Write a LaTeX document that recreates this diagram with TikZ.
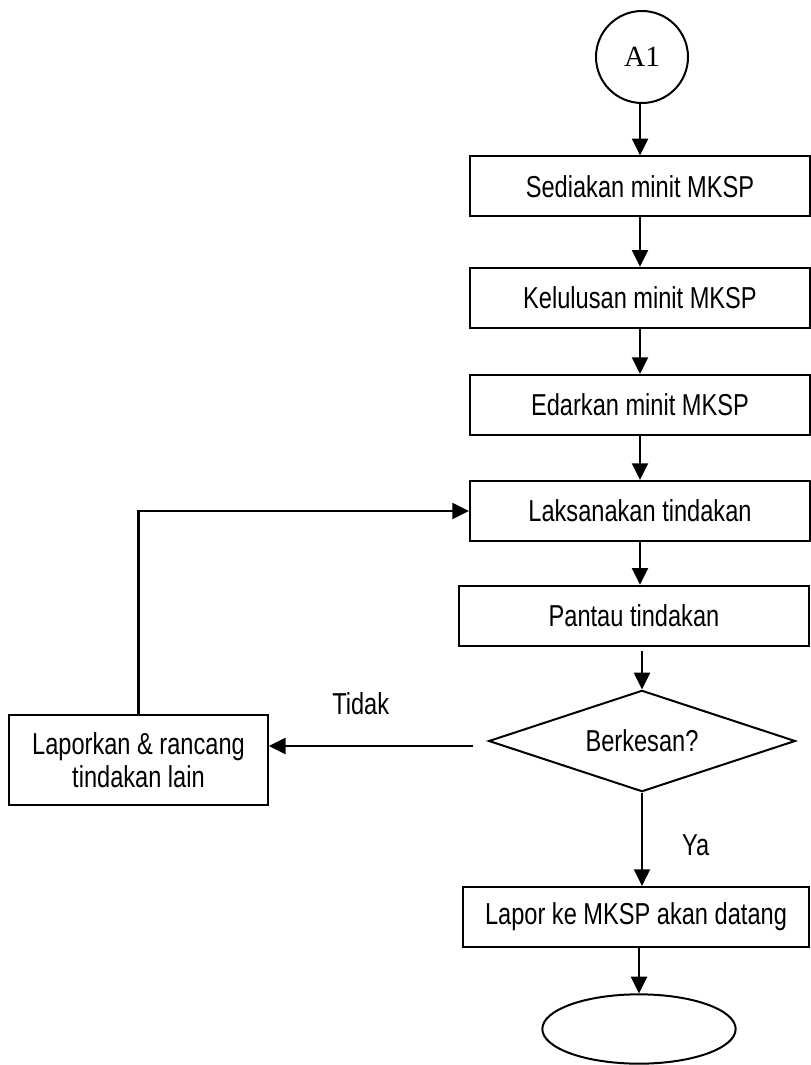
\documentclass[tikz,border=0pt]{standalone}
\usepackage{fontspec}
\setmainfont{Liberation Sans}[FakeStretch=0.78]
\newfontfamily\timesfont{Liberation Serif}
\usetikzlibrary{positioning,shapes.geometric,arrows.meta}

\begin{document}
\begin{tikzpicture}[x=0.75pt, y=-0.75pt,
  every node/.style={font=\fontsize{22.7}{25}\selectfont},
  proc/.style={draw, line width=1.5pt, minimum width=255pt, minimum height=45pt, inner sep=2pt, align=center},
  conn/.style={draw, circle, line width=1.5pt, minimum size=69pt, inner sep=0pt, font=\timesfont\fontsize{22}{24}\selectfont},
  decide/.style={draw, diamond, aspect=3, line width=1.5pt, minimum width=230pt, minimum height=76pt, inner sep=0pt},
  term/.style={draw, ellipse, line width=1.5pt, minimum width=145pt, minimum height=52pt},
  arr/.style={-{Triangle[length=12.5pt,width=12pt]}, line width=1.6pt}]
\useasboundingbox (0,0) rectangle (811,1065);
% nodes
\node[conn] (a1) at (642,57) {A1};
\node[proc, below=38.5pt of a1, xshift=-1.5pt] (sedia) {Sediakan minit MKSP};
\node[proc, below=37pt of sedia] (lulus) {Kelulusan minit MKSP};
\node[proc, below=34pt of lulus] (edar) {Edarkan minit MKSP};
\node[proc, below=33pt of edar] (laksana) {Laksanakan tindakan};
\node[proc, below=32pt of laksana, minimum width=262pt, xshift=-4.5pt] (pantau) {Pantau tindakan};
\node[decide, below=32pt of pantau, xshift=6pt] (kesan) {Berkesan?};
\node[proc, below=70pt of kesan, minimum width=260pt, xshift=-4.5pt] (lapor) {Lapor ke MKSP akan datang};
\node[term, below=34pt of lapor, xshift=2.25pt] (tamat) {};
\node[proc, minimum width=194pt, minimum height=67pt] (rancang) at (138.5,760) {Laporkan \& rancang\\tindakan lain};
\coordinate (tidakpt) at ([yshift=-3.75pt]kesan.west);

% connectors
\foreach \u/\v in {a1/sedia, sedia/lulus, lulus/edar, edar/laksana}
  \draw[arr] (\u.south -| sedia) -- (\v.north -| sedia);
\draw[arr] (laksana.south) -- (laksana.south |- pantau.north);
\draw[arr, shorten <=3pt] (pantau.south -| kesan.north) -- (kesan.north);
\draw[arr] (kesan.south) -- node[pos=0.56, right=26pt] (ya) {Ya} (kesan.south |- lapor.north);
\draw[arr] (lapor.south -| tamat.north) -- (tamat.north);
\draw[arr, shorten <=11pt] (tidakpt) -- node[pos=0.58, above=19pt] (tidak) {Tidak} (tidakpt -| rancang.east);
\draw[arr] (rancang.north) |- (laksana.west);
\end{tikzpicture}
\end{document}
